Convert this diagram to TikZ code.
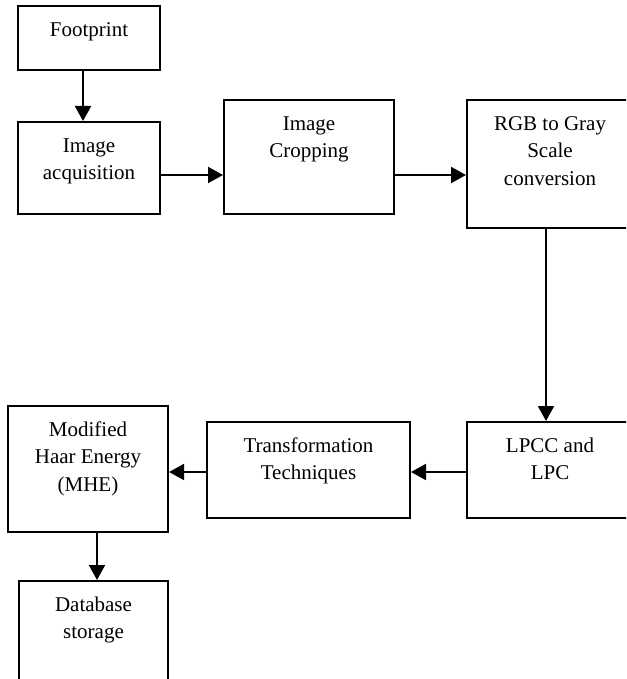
\documentclass[tikz,border=0pt]{standalone}
\usepackage{fontspec}
\setmainfont{Liberation Serif}
\usetikzlibrary{arrows.meta,calc}
\begin{document}
\begin{tikzpicture}[x=1pt,y=-1pt,
  box/.style={draw, line width=2pt, anchor=north west, inner sep=0pt},
  lbl/.style={anchor=north, inner sep=0pt, align=center, font=\fontsize{21}{27.5}\selectfont},
  arr/.style={line width=2pt, -{Triangle[length=15pt,width=16pt]}}]
\useasboundingbox (0,0) rectangle (626,679);
\clip (0,0) rectangle (626,679);
% boxes
\node[box, minimum width=142pt, minimum height=64pt]  (fp)    at (17,5)    {};
\node[box, minimum width=142pt, minimum height=92pt]  (acq)   at (17,121)  {};
\node[box, minimum width=170pt, minimum height=114pt] (crop)  at (223,99)  {};
\node[box, minimum width=166pt, minimum height=128pt] (rgb)   at (466,99)  {};
\node[box, minimum width=166pt, minimum height=96pt]  (lpcc)  at (466,421) {};
\node[box, minimum width=203pt, minimum height=96pt]  (trans) at (206,421) {};
\node[box, minimum width=160pt, minimum height=126pt] (mhe)   at (7,405)   {};
\node[box, minimum width=149pt, minimum height=110pt] (db)    at (18,580)  {};
% texts
\node[lbl] (fpT)    at ([yshift=-11.75pt]fp.north)    {\strut Footprint};
\node[lbl] (acqT)   at ([yshift=-11.75pt]acq.north)   {\strut Image\\acquisition};
\node[lbl] (cropT)  at ([yshift=-11.75pt]crop.north)  {\strut Image\\Cropping};
\node[lbl] (rgbT)   at ([yshift=-11.75pt]rgb.north)   {\strut RGB to Gray\\Scale\\conversion};
\node[lbl] (lpccT)  at ([yshift=-11.75pt]lpcc.north)  {\strut LPCC and\\LPC};
\node[lbl] (transT) at ([yshift=-11.75pt]trans.north) {\strut Transformation\\Techniques};
\node[lbl] (mheT)   at ([yshift=-11.75pt]mhe.north)   {\strut Modified\\Haar Energy\\(MHE)};
\node[lbl] (dbT)    at ([yshift=-11.75pt]db.north)    {\strut Database\\storage};
% connectors
\draw[arr] ([xshift=-6pt]fp.south) -- ([xshift=-6pt]fp.south |- acq.north);
\draw[arr] ([yshift=-7pt]acq.east) -- ([yshift=-7pt]acq.east -| crop.west);
\draw[arr] ([yshift=-18pt]crop.east) -- ([yshift=-18pt]crop.east -| rgb.west);
\draw[arr] ([xshift=-4pt]rgb.south) -- ([xshift=-4pt]rgb.south |- lpcc.north);
\draw[arr] ([yshift=-2pt]lpcc.west) -- ([yshift=-2pt]lpcc.west -| trans.east);
\draw[arr] ([yshift=-2pt]trans.west) -- ([yshift=-2pt]trans.west -| mhe.east);
\draw[arr] ([xshift=9pt]mhe.south) -- ([xshift=9pt]mhe.south |- db.north);
\end{tikzpicture}
\end{document}
